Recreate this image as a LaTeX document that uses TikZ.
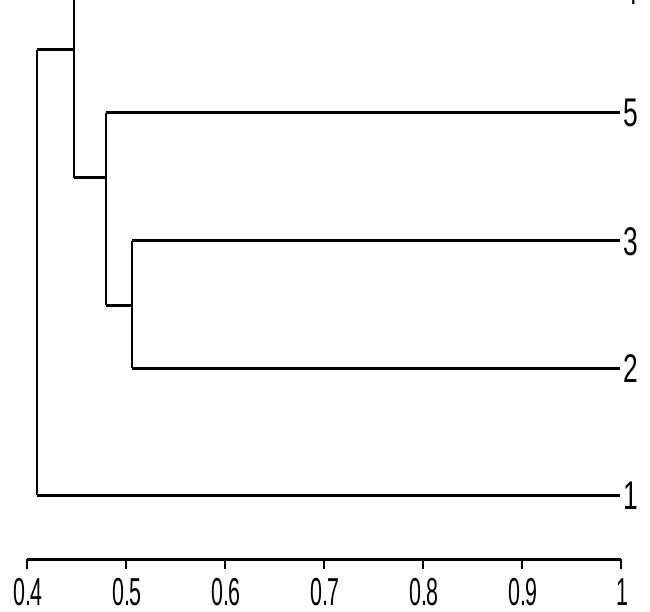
\documentclass[tikz,border=0pt]{standalone}
\usepackage{fontspec}
\setmainfont{Liberation Sans}
\newcommand{\cnd}[1]{\scalebox{0.66}[1]{#1}}
\newcommand{\cndb}[1]{\scalebox{0.55}[1]{#1}}
\begin{document}
\begin{tikzpicture}[x=1pt,y=-1pt,
  hline/.style={line width=3pt},
  vline/.style={line width=1.3pt},
  axisline/.style={line width=3pt},
  tickline/.style={line width=1.3pt},
  leaflabel/.style={anchor=base west, inner sep=0pt, font=\fontsize{40}{40}\selectfont},
  ticklabel/.style={anchor=base, inner sep=0pt, font=\fontsize{39}{39}\selectfont}]
\useasboundingbox (0,0) rectangle (650,612);
\clip (0,0) rectangle (650,612);
% leaf ends
\coordinate (L4) at (620,-9);
\coordinate (L5) at (620,113);
\coordinate (L3) at (620,241);
\coordinate (L2) at (620,368);
\coordinate (L1) at (620,495);
% merge points
\coordinate (a4) at (74,-9);
\coordinate (a5) at (106,113);
\coordinate (a3) at (132,241);
\coordinate (a2) at (132,368);
\coordinate (a1) at (37,495);
\coordinate (m23) at (132,305);
\coordinate (m23l) at (106,305);
\coordinate (m523) at (106,178);
\coordinate (m523l) at (74,178);
\coordinate (m4) at (74,50);
\coordinate (m4l) at (37,50);
% leaf branches
\draw[hline] (a4) -- (L4);
\draw[hline] (a5) -- (L5);
\draw[hline] (a3) -- (L3);
\draw[hline] (a2) -- (L2);
\draw[hline] (a1) -- (L1);
% verticals
\draw[vline] (a3) -- (a2);
\draw[vline] (a5) -- (m23l);
\draw[vline] (a4) -- (m523l);
\draw[vline] (m4l) -- (a1);
% joining horizontals
\draw[hline] (m23l) -- (m23);
\draw[hline] (m523l) -- (m523);
\draw[hline] (m4l) -- (m4);
% leaf labels
\node[leaflabel] (t4) at (623,5) {\cnd{4}};
\node[leaflabel] (t5) at (623,127) {\cnd{5}};
\node[leaflabel] (t3) at (623,255) {\cnd{3}};
\node[leaflabel] (t2) at (623,382) {\cnd{2}};
\node[leaflabel] (t1) at (623,509) {\cnd{1}};
% axis
\coordinate (ax0) at (27,559);
\coordinate (ax1) at (621,559);
\draw[axisline] (ax0) -- (ax1);
\foreach \v/\lab [count=\i] in {0/0.4,1/0.5,2/0.6,3/0.7,4/0.8,5/0.9,6/1} {
  \coordinate (tk\i) at ({27+99*\v},559);
  \coordinate (tb\i) at ({27+99*\v},569);
  \draw[tickline] (tk\i) -- (tb\i);
  \node[ticklabel] (lab\i) at ({27+99*\v+1},605) {\cndb{\lab}};
}
\end{tikzpicture}
\end{document}
